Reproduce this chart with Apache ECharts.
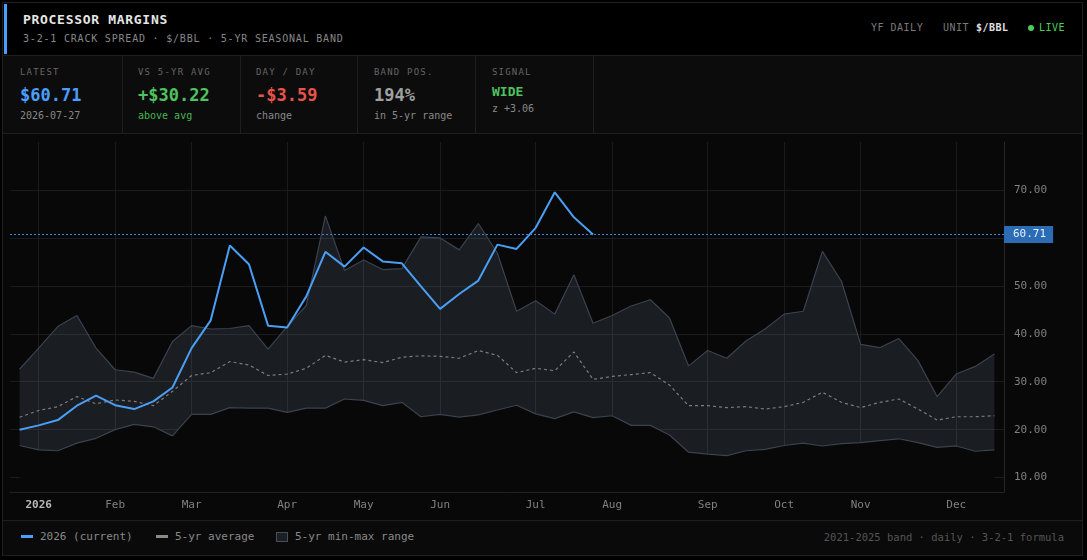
<!DOCTYPE html>
<html>
<head>
<meta charset="utf-8">
<script src="https://cdn.jsdelivr.net/npm/echarts@6.0.0/dist/echarts.min.js"></script>
<style>
  html,body{margin:0;padding:0;background:#000;width:1087px;height:560px;overflow:hidden;font-family:'DejaVu Sans Mono',monospace;}
  .abs{position:absolute;white-space:nowrap;}
  .klabel{font-size:9px;line-height:12px;color:#666;letter-spacing:1.2px;}
  .kval{font-size:17px;line-height:20px;font-weight:bold;}
  .ksub{font-size:10px;line-height:14px;color:#888;}
  .hr{font-size:10px;line-height:12px;color:#7a7a7a;letter-spacing:0.5px;}
  .leg{font-size:11px;line-height:14px;color:#888;}
</style>
</head>
<body>
<div class="abs" style="left:2px;top:2px;width:1081px;height:554px;box-sizing:border-box;border:1px solid #1f1f1f;background:#080808;"></div>
<!-- header -->
<div class="abs" style="left:3px;top:3px;width:1079px;height:52px;background:#000;"></div>
<div class="abs" style="left:3px;top:55px;width:1079px;height:1px;background:#1f1f1f;"></div>
<div class="abs" style="left:4px;top:4px;width:3px;height:50px;background:#4a9eff;"></div>
<div class="abs" style="left:23px;top:13px;font-size:13px;line-height:14px;font-weight:bold;color:#e6e6e6;letter-spacing:0.7px;">PROCESSOR MARGINS</div>
<div class="abs" style="left:23px;top:33px;font-size:10px;line-height:12px;color:#888;letter-spacing:0.8px;">3-2-1 CRACK SPREAD · $/BBL · 5-YR SEASONAL BAND</div>
<div class="abs hr" style="left:871px;top:22px;">YF DAILY</div>
<div class="abs hr" style="left:943px;top:22px;">UNIT</div>
<div class="abs hr" style="left:976px;top:22px;color:#e0e0e0;font-weight:bold;">$/BBL</div>
<div class="abs" style="left:1028px;top:25px;width:6px;height:6px;border-radius:3px;background:#4ccf5a;"></div>
<div class="abs hr" style="left:1039px;top:22px;color:#4ccf5a;">LIVE</div>
<!-- KPI row -->
<div class="abs" style="left:3px;top:56px;width:1079px;height:77px;background:#0c0c0c;"></div>
<div class="abs" style="left:3px;top:133px;width:1079px;height:1px;background:#1f1f1f;"></div>
<div class="abs" style="left:122px;top:56px;width:1px;height:77px;background:#1f1f1f;"></div>
<div class="abs" style="left:240px;top:56px;width:1px;height:77px;background:#1f1f1f;"></div>
<div class="abs" style="left:357px;top:56px;width:1px;height:77px;background:#1f1f1f;"></div>
<div class="abs" style="left:475px;top:56px;width:1px;height:77px;background:#1f1f1f;"></div>
<div class="abs" style="left:593px;top:56px;width:1px;height:77px;background:#1f1f1f;"></div>

<div class="abs klabel" style="left:20px;top:66px;">LATEST</div>
<div class="abs kval" style="left:20px;top:85px;color:#4a9eff;">$60.71</div>
<div class="abs ksub" style="left:20px;top:109px;">2026-07-27</div>

<div class="abs klabel" style="left:138px;top:66px;">VS 5-YR AVG</div>
<div class="abs kval" style="left:138px;top:85px;color:#4fc15e;">+$30.22</div>
<div class="abs ksub" style="left:138px;top:109px;color:#47b553;">above avg</div>

<div class="abs klabel" style="left:256px;top:66px;">DAY / DAY</div>
<div class="abs kval" style="left:256px;top:85px;color:#e5534b;">-$3.59</div>
<div class="abs ksub" style="left:256px;top:109px;">change</div>

<div class="abs klabel" style="left:374px;top:66px;">BAND POS.</div>
<div class="abs kval" style="left:374px;top:85px;color:#a0a0a0;">194%</div>
<div class="abs ksub" style="left:374px;top:109px;">in 5-yr range</div>

<div class="abs klabel" style="left:492px;top:66px;">SIGNAL</div>
<div class="abs" style="left:492px;top:84px;font-size:13px;line-height:16px;font-weight:bold;color:#4fc15e;">WIDE</div>
<div class="abs ksub" style="left:492px;top:102px;">z +3.06</div>

<!-- legend row -->
<div class="abs" style="left:3px;top:520px;width:1079px;height:1px;background:#1f1f1f;"></div>
<div class="abs" style="left:3px;top:521px;width:1079px;height:34px;background:#0a0a0a;"></div>
<div class="abs" style="left:21px;top:535px;width:12px;height:3px;background:#4a9eff;"></div>
<div class="abs leg" style="left:40px;top:530px;">2026 (current)</div>
<div class="abs" style="left:156px;top:535px;width:12px;height:3px;background:#8a8a8a;"></div>
<div class="abs leg" style="left:175px;top:530px;">5-yr average</div>
<div class="abs" style="left:276px;top:532px;width:12px;height:10px;box-sizing:border-box;border:1px solid #454e5c;background:#1c1f24;"></div>
<div class="abs leg" style="left:295px;top:530px;">5-yr min-max range</div>
<div class="abs" style="right:23px;top:530px;font-size:10.5px;line-height:14px;color:#555;">2021-2025 band · daily · 3-2-1 formula</div>

<div id="chart" class="abs" style="left:0;top:0;width:1087px;height:560px;"></div>

<script>
// ---- data ----
const weeks = [
  '2025-12-29','2026-01-05','2026-01-12','2026-01-19','2026-01-26',
  '2026-02-02','2026-02-09','2026-02-16','2026-02-23',
  '2026-03-02','2026-03-09','2026-03-16','2026-03-23','2026-03-30',
  '2026-04-06','2026-04-13','2026-04-20','2026-04-27',
  '2026-05-04','2026-05-11','2026-05-18','2026-05-25',
  '2026-06-01','2026-06-08','2026-06-15','2026-06-22','2026-06-29',
  '2026-07-06','2026-07-13','2026-07-20','2026-07-27',
  '2026-08-03','2026-08-10','2026-08-17','2026-08-24','2026-08-31',
  '2026-09-07','2026-09-14','2026-09-21','2026-09-28',
  '2026-10-05','2026-10-12','2026-10-19','2026-10-26',
  '2026-11-02','2026-11-09','2026-11-16','2026-11-23','2026-11-30',
  '2026-12-07','2026-12-14','2026-12-21'
];
const tickIndex  = [1, 5, 9, 14, 18, 22, 27, 31, 36, 40, 44, 49];
const tickLabels = ['2026','Feb','Mar','Apr','May','Jun','Jul','Aug','Sep','Oct','Nov','Dec'];

const bandUpper = [32.6,37.0,41.5,43.8,37.0,32.5,32.0,30.7,38.4,41.7,41.0,41.1,41.7,36.8,41.5,45.9,64.6,53.2,55.4,53.4,53.6,60.2,60.0,57.5,63.0,56.8,44.7,46.9,44.1,52.3,42.2,43.8,45.8,47.1,43.3,33.3,36.5,34.9,38.5,41.0,44.1,44.7,57.2,50.9,37.8,37.1,39.0,34.4,26.9,31.6,33.2,35.8];
const avg5 = [22.6,24.0,24.8,26.9,25.4,26.2,25.9,25.0,28.0,31.3,31.9,34.2,33.5,31.3,31.6,32.8,35.5,34.1,34.6,34.0,35.1,35.4,35.3,34.9,36.5,35.5,31.9,32.8,32.3,36.2,30.49,31.1,31.5,31.9,29.3,25.0,25.0,24.6,24.8,24.3,24.8,25.7,27.8,25.7,24.6,25.7,26.4,24.3,22.0,22.7,22.7,22.9];
const bandLower = [16.7,15.8,15.6,17.2,18.2,20.0,21.1,20.6,18.7,23.2,23.2,24.6,24.5,24.5,23.6,24.5,24.5,26.4,26.1,25.0,25.7,22.7,23.2,22.6,23.1,24.1,25.1,23.3,22.3,23.7,22.5,22.9,20.9,20.9,18.9,15.3,14.9,14.6,15.6,15.9,16.7,17.2,16.6,17.1,17.3,17.7,18.1,17.3,16.3,16.6,15.5,15.8];
const current2026 = [20.0,20.9,22.0,25.0,27.1,25.1,24.3,25.9,28.8,37.0,42.8,58.4,54.5,41.7,41.3,47.8,57.1,54.0,58.0,55.1,54.7,49.9,45.2,48.3,51.1,58.6,57.7,62.1,69.5,64.30,60.71];

// ---- chart ----
const bandRange = bandUpper.map((u, i) => +(u - bandLower[i]).toFixed(2));
const latest = current2026[current2026.length - 1];
const tickSet = new Set(tickIndex);
const showTick = (idx) => tickSet.has(idx);
const FONT = 'DejaVu Sans Mono';

const chart = echarts.init(document.getElementById('chart'), null, {renderer: 'canvas'});
chart.setOption({
  animation: false,
  backgroundColor: 'transparent',
  textStyle: {fontFamily: FONT},
  grid: {left: 10, right: 83, top: 142, bottom: 68, containLabel: false, outerBoundsMode: 'none'},
  xAxis: {
    type: 'category',
    data: weeks,
    boundaryGap: true,
    axisLine: {show: true, lineStyle: {color: '#222'}},
    axisTick: {show: false},
    axisLabel: {
      interval: (idx) => showTick(idx),
      formatter: (val, idx) => {
        const k = tickIndex.indexOf(idx);
        if (k < 0) return '';
        return k === 0 ? '{yr|' + tickLabels[k] + '}' : tickLabels[k];
      },
      color: '#808080', fontSize: 11, fontFamily: FONT, margin: 8,
      rich: {yr: {fontWeight: 'bold', color: '#b8b8b8', fontSize: 11, fontFamily: FONT}}
    },
    splitLine: {show: true, interval: (idx) => showTick(idx), alignWithLabel: true,
      lineStyle: {color: '#1b1b1b', width: 1}}
  },
  yAxis: {
    type: 'value',
    position: 'right',
    min: 7, max: 80,
    minInterval: 10, maxInterval: 10,
    axisLine: {show: true, lineStyle: {color: '#262626'}},
    axisTick: {show: false},
    axisLabel: {color: '#808080', fontSize: 11, fontFamily: FONT, margin: 10,
      formatter: (v) => v.toFixed(2), showMinLabel: false, showMaxLabel: false},
    splitLine: {show: true, showMinLine: false, showMaxLine: false,
      lineStyle: {color: '#1b1b1b', width: 1}}
  },
  series: [
    {
      name: 'lower', type: 'line', data: bandLower, stack: 'band',
      symbol: 'none', silent: true, z: 2,
      lineStyle: {color: '#3a4350', width: 1.2},
      areaStyle: {color: '#080808', opacity: 1}
    },
    {
      name: '5-yr min-max range', type: 'line', data: bandRange, stack: 'band',
      symbol: 'none', silent: true, z: 2,
      lineStyle: {color: '#3a4350', width: 1.2},
      areaStyle: {color: 'rgba(160,180,220,0.12)', opacity: 1}
    },
    {
      name: '5-yr average', type: 'line', data: avg5,
      symbol: 'none', silent: true, z: 3,
      lineStyle: {color: '#7d7d7d', width: 1.2, type: [3, 3]}
    },
    {
      name: '2026 (current)', type: 'line', data: current2026,
      symbol: 'none', silent: true, z: 4,
      lineStyle: {color: '#4a9ff5', width: 2},
      markLine: {
        silent: true, symbol: 'none',
        lineStyle: {color: '#3d86dd', type: [2, 2], width: 1},
        label: {
          show: true, position: 'end', distance: 0,
          formatter: (p) => p.value.toFixed(2),
          backgroundColor: '#2c6cb4', color: '#e8f1ff',
          padding: [3, 7, 2, 9], fontSize: 11, lineHeight: 12, fontFamily: FONT
        },
        data: [{yAxis: latest}]
      }
    }
  ]
});
</script>
</body>
</html>
